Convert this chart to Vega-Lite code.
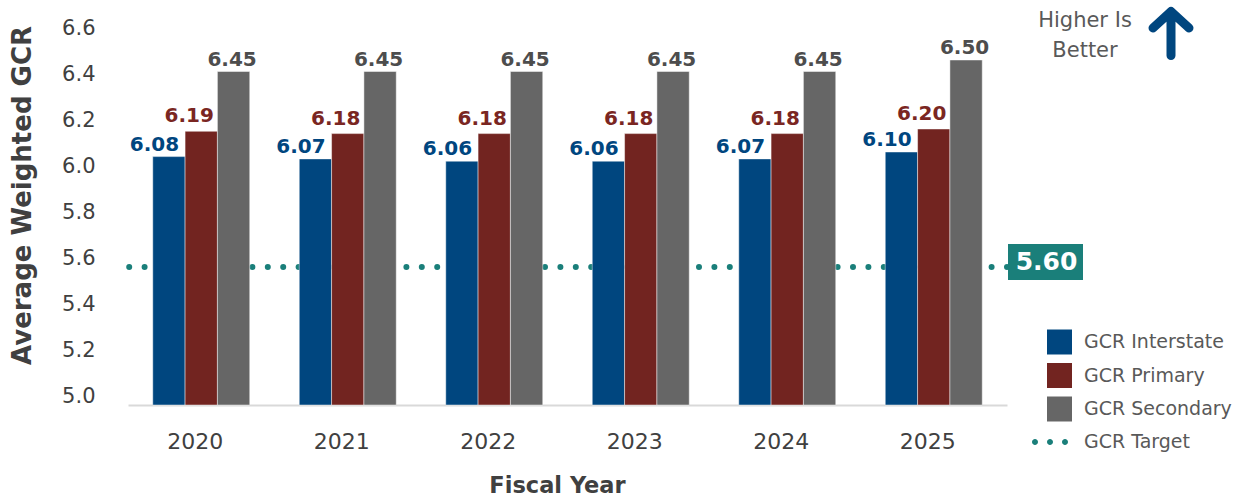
{
  "$schema": "https://vega.github.io/schema/vega-lite/v6.json",
  "autosize": {"type": "none"},
  "padding": {"left": 128, "top": 37, "right": 234, "bottom": 92},
  "width": 879,
  "height": 368,
  "background": "#ffffff",
  "config": {"view": {"stroke": null}, "font": "DejaVu Sans"},
  "datasets": {
    "bars": [
      {"year": "2020", "series": "GCR Interstate", "value": 6.08},
      {"year": "2020", "series": "GCR Primary", "value": 6.19},
      {"year": "2020", "series": "GCR Secondary", "value": 6.45},
      {"year": "2021", "series": "GCR Interstate", "value": 6.07},
      {"year": "2021", "series": "GCR Primary", "value": 6.18},
      {"year": "2021", "series": "GCR Secondary", "value": 6.45},
      {"year": "2022", "series": "GCR Interstate", "value": 6.06},
      {"year": "2022", "series": "GCR Primary", "value": 6.18},
      {"year": "2022", "series": "GCR Secondary", "value": 6.45},
      {"year": "2023", "series": "GCR Interstate", "value": 6.06},
      {"year": "2023", "series": "GCR Primary", "value": 6.18},
      {"year": "2023", "series": "GCR Secondary", "value": 6.45},
      {"year": "2024", "series": "GCR Interstate", "value": 6.07},
      {"year": "2024", "series": "GCR Primary", "value": 6.18},
      {"year": "2024", "series": "GCR Secondary", "value": 6.45},
      {"year": "2025", "series": "GCR Interstate", "value": 6.10},
      {"year": "2025", "series": "GCR Primary", "value": 6.20},
      {"year": "2025", "series": "GCR Secondary", "value": 6.50}
    ],
    "target": [{"series": "GCR Target", "target": 5.6}]
  },
  "encoding": {
    "x": {
      "field": "year", "type": "nominal",
      "scale": {"paddingInner": 0.338, "paddingOuter": 0.169},
      "axis": {
        "title": "Fiscal Year", "labelAngle": 0, "ticks": false, "tickSize": 0,
        "labelPadding": 26, "labelOffset": -6, "labelFontSize": 22, "labelColor": "#404040", "labelFont": "DejaVu Sans",
        "titleFontSize": 22.5, "titleFontWeight": "bold", "titleColor": "#404040", "titlePadding": 22, "titleFont": "DejaVu Sans",
        "titleX": 429,
        "domainColor": "#D9D9D9", "domainWidth": 2, "grid": false
      }
    }
  },
  "layer": [
    {
      "data": {"name": "target"},
      "mark": {"type": "rule", "color": "#1A7F7A", "strokeWidth": 6, "strokeDash": [0, 15.4], "strokeCap": "round"},
      "encoding": {
        "x": null,
        "y": {"field": "target", "type": "quantitative"}
      }
    },
    {
      "data": {"name": "target"},
      "mark": {"type": "point", "filled": true, "color": "#1A7F7A", "opacity": 1, "size": 0},
      "encoding": {
        "x": {"datum": "2020"},
        "y": {"field": "target", "type": "quantitative"},
        "shape": {
          "field": "series", "type": "nominal",
          "scale": {"range": ["M-2.2,0a0.24,0.24 0 1,0 0.48,0a0.24,0.24 0 1,0 -0.48,0ZM-1,0a0.24,0.24 0 1,0 0.48,0a0.24,0.24 0 1,0 -0.48,0ZM0.2,0a0.24,0.24 0 1,0 0.48,0a0.24,0.24 0 1,0 -0.48,0Z"]},
          "legend": {
            "orient": "none", "legendX": 919, "legendY": 392.5, "title": null, "padding": 0,
            "symbolSize": 625, "symbolStrokeWidth": 0, "symbolOpacity": 1, "symbolFillColor": "#1A7F7A",
            "labelFontSize": 19, "labelColor": "#595959", "labelFont": "DejaVu Sans", "labelOffset": 12
          }
        }
      }
    },
    {
      "data": {"name": "bars"},
      "mark": {"type": "bar", "stroke": "#ffffff", "strokeWidth": 1, "strokeOpacity": 0.45},
      "encoding": {
        "xOffset": {"field": "series", "type": "nominal", "scale": {"paddingInner": 0, "paddingOuter": 0}},
        "y": {
          "field": "value", "type": "quantitative",
          "scale": {"domain": [5, 6.6], "zero": false, "nice": false},
          "axis": {
            "title": "Average Weighted GCR", "values": [5, 5.2, 5.4, 5.6, 5.8, 6, 6.2, 6.4, 6.6], "format": ".1f",
            "domain": false, "ticks": false, "tickSize": 0, "grid": false,
            "labelPadding": 33, "labelOffset": -9, "labelFontSize": 21, "labelColor": "#404040", "labelFont": "DejaVu Sans",
            "titleFontSize": 26, "titleFontWeight": "bold", "titleColor": "#404040", "titleFont": "DejaVu Sans",
            "titleX": -106, "titleY": 158, "titleBaseline": "middle", "titleAlign": "center", "titleAngle": -90
          }
        },
        "y2": {"datum": 5},
        "color": {
          "field": "series", "type": "nominal",
          "scale": {
            "domain": ["GCR Interstate", "GCR Primary", "GCR Secondary"],
            "range": ["#00467F", "#722420", "#666666"]
          },
          "legend": {
            "orient": "none", "legendX": 919, "legendY": 292.5, "title": null, "padding": 0,
            "symbolType": "square", "symbolSize": 625, "symbolStrokeWidth": 0, "symbolOpacity": 1,
            "labelFontSize": 19, "labelColor": "#595959", "labelFont": "DejaVu Sans", "labelOffset": 12,
            "rowPadding": 8.5
          }
        }
      }
    },
    {
      "data": {"name": "bars"},
      "transform": [{"filter": "datum.series === 'GCR Interstate'"}],
      "mark": {"type": "text", "fontSize": 20, "fontWeight": "bold", "color": "#00467F", "baseline": "alphabetic", "dx": -14.5, "dy": -6},
      "encoding": {
        "xOffset": {"field": "series", "type": "nominal"},
        "y": {"field": "value", "type": "quantitative"},
        "text": {"field": "value", "type": "quantitative", "format": ".2f"}
      }
    },
    {
      "data": {"name": "bars"},
      "transform": [{"filter": "datum.series === 'GCR Primary'"}],
      "mark": {"type": "text", "fontSize": 20, "fontWeight": "bold", "color": "#7A2622", "baseline": "alphabetic", "dx": -12, "dy": -9},
      "encoding": {
        "xOffset": {"field": "series", "type": "nominal"},
        "y": {"field": "value", "type": "quantitative"},
        "text": {"field": "value", "type": "quantitative", "format": ".2f"}
      }
    },
    {
      "data": {"name": "bars"},
      "transform": [{"filter": "datum.series === 'GCR Secondary'"}],
      "mark": {"type": "text", "fontSize": 20, "fontWeight": "bold", "color": "#4D4D4D", "baseline": "alphabetic", "dx": -1.5, "dy": -6},
      "encoding": {
        "xOffset": {"field": "series", "type": "nominal"},
        "y": {"field": "value", "type": "quantitative"},
        "text": {"field": "value", "type": "quantitative", "format": ".2f"}
      }
    },
    {
      "data": {"name": "target"},
      "mark": {"type": "point", "filled": true, "color": "#1A7F7A", "opacity": 1, "size": 400, "shape": "M7.425,-2.3H14.925V1.3H7.425Z"},
      "encoding": {
        "x": {"datum": "2025"},
        "y": {"field": "target", "type": "quantitative"}
      }
    },
    {
      "data": {"name": "target"},
      "mark": {"type": "text", "fontSize": 25, "fontWeight": "bold", "color": "#ffffff", "align": "center", "baseline": "middle", "dx": 112.75, "dy": -5},
      "encoding": {
        "x": {"datum": "2025"},
        "y": {"field": "target", "type": "quantitative"},
        "text": {"field": "target", "type": "quantitative", "format": ".2f"}
      }
    },
    {
      "data": {"name": "target"},
      "mark": {"type": "text", "text": ["Higher Is", "Better"], "fontSize": 21, "color": "#595959", "align": "center", "baseline": "alphabetic", "lineHeight": 30, "dx": 151.25, "dy": -10},
      "encoding": {
        "x": {"datum": "2025"},
        "y": {"datum": 6.6}
      }
    },
    {
      "data": {"name": "target"},
      "mark": {"type": "point", "filled": false, "color": "#00467F", "opacity": 1, "size": 400, "strokeWidth": 9, "strokeCap": "round", "strokeJoin": "round",
        "shape": "M23.725,1.85V-2.55M21.925,-0.9L23.725,-2.55L25.525,-0.9"},
      "encoding": {
        "x": {"datum": "2025"},
        "y": {"datum": 6.6}
      }
    }
  ]
}
